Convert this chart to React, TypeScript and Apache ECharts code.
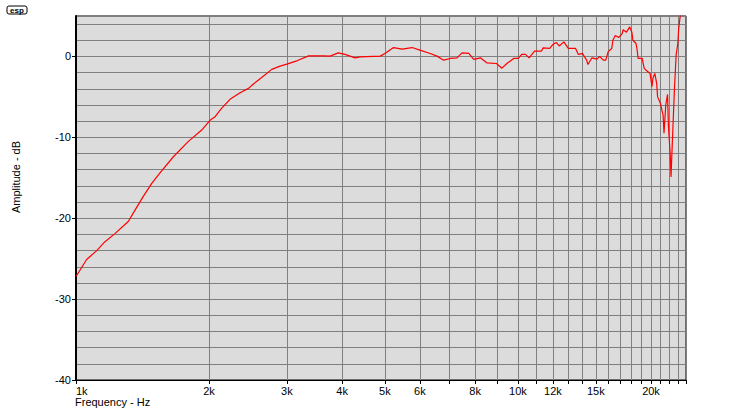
import React, { useEffect, useRef } from "react";
import * as echarts from "echarts";

const freqHz = [
  1000, 1057, 1114, 1163, 1225, 1313, 1360, 1420, 1484, 1549, 1661, 1796, 1925, 2010,
  2060, 2137, 2231, 2351, 2456, 2521, 2631, 2773, 2895, 3000, 3160, 3360, 3630, 3760,
  3920, 4060, 4170, 4280, 4400, 4880, 5000, 5230, 5470, 5760, 6000, 6330, 6560, 6790,
  7030, 7280, 7470, 7740, 7940, 8220, 8500, 8940, 9200, 9440, 9780, 10000, 10200, 10400,
  10600, 10900, 11300, 11400, 11800, 12000, 12200, 12400, 12700, 13000, 13500, 13700,
  14000, 14300, 14400, 14700, 15100, 15300, 15600, 15800, 16000, 16300, 16400, 16600,
  16900, 17200, 17300, 17600, 17900, 18100, 18200, 18500, 18600, 18700, 19100, 19300,
  19500, 19900, 20100, 20200, 20400, 20600, 20700, 21000, 21300, 21400, 21600, 21800,
  21900, 22100, 22200, 22300, 22500, 22600, 22800, 23000, 23100, 23300,
];
const ampDb = [
  -27.2, -25.1, -24.0, -22.9, -21.9, -20.4, -19.0, -17.3, -15.7, -14.4, -12.4, -10.5, -9.1, -7.9,
  -7.5, -6.4, -5.3, -4.5, -3.95, -3.4, -2.6, -1.6, -1.2, -0.95, -0.54, 0.07, 0.07, 0.04,
  0.44, 0.25, 0.04, -0.17, -0.05, 0.04, 0.37, 1.1, 0.9, 1.1, 0.78, 0.37, 0.04, -0.46,
  -0.25, -0.17, 0.44, 0.37, -0.37, -0.17, -0.79, -0.87, -1.45, -0.87, -0.25, -0.25, 0.25, 0.25,
  -0.17, 0.65, 0.65, 1.06, 0.99, 1.48, 1.73, 1.3, 1.8, 0.99, 0.99, 0.25,
  0.37, -0.46, -1.0, -0.17, -0.33, 0.0, -0.46, -0.46, 0.6, 0.99, 2.0, 2.6,
  2.35, 2.8, 3.3, 3.0, 3.65, 3.0, 2.0, 1.6, 0.86, -0.25, -0.25, -1.48,
  -1.7, -2.1, -3.75, -2.7, -2.1, -3.33, -5.0, -5.8, -7.25, -9.5, -6.0, -4.7,
  -8.6, -12.0, -14.9, -12.0, -6.6, -4.0, 0.2, 1.6, 3.4, 5.1,
];
const xGridValues = [
  1000, 2000, 3000, 4000, 5000, 6000, 7000, 8000, 9000, 10000, 11000, 12000, 13000,
  14000, 15000, 16000, 17000, 18000, 19000, 20000, 21000, 22000, 23000, 24000,
];
const xLabelValues = [1000, 2000, 3000, 4000, 5000, 6000, 8000, 10000, 12000, 15000, 20000];
const yLabelValues = [-40, -30, -20, -10, 0];

const FONT = "'Liberation Sans', Arial, sans-serif";

export default function App() {
  const ref = useRef<HTMLDivElement>(null);
  useEffect(() => {
    const chart = echarts.init(ref.current!, null, { renderer: "svg" });
    chart.setOption({
      animation: false,
      backgroundColor: "#ffffff",
      grid: {
        left: 76,
        right: 54,
        top: 16,
        bottom: 40,
        show: true,
        backgroundColor: "#dcdcdc",
        borderColor: "#000000",
        borderWidth: 1,
      },
      xAxis: {
        type: "log",
        logBase: 10,
        min: 1000,
        max: 24000,
        axisLine: { show: true, onZero: false, lineStyle: { color: "#000", width: 1 } },
        axisTick: {
          show: true,
          length: 4,
          customValues: xGridValues,
          lineStyle: { color: "#000", width: 1 },
        },
        axisLabel: {
          customValues: xLabelValues,
          formatter: (v: number) => `${Math.round(v / 1000)}k`,
          color: "#000",
          fontFamily: FONT,
          fontSize: 11,
          margin: 5,
          alignMinLabel: "left",
        },
        splitLine: { show: true, lineStyle: { color: "#808080", width: 1 } },
      },
      yAxis: [
        {
          type: "value",
          min: -40,
          max: 5,
          interval: 2,
          axisLine: { show: true, onZero: false, lineStyle: { color: "#000", width: 2 } },
          axisTick: { show: false },
          axisLabel: { show: false },
          splitLine: { show: true, lineStyle: { color: "#808080", width: 1 } },
        },
        {
          type: "value",
          min: -40,
          max: 5,
          position: "left",
          axisLine: { show: false, onZero: false },
          axisTick: {
            show: true,
            length: 4,
            customValues: yLabelValues,
            lineStyle: { color: "#000", width: 1 },
          },
          axisLabel: {
            customValues: yLabelValues,
            color: "#000",
            fontFamily: FONT,
            fontSize: 11,
            margin: 5,
          },
          splitLine: { show: false },
        },
      ],
      series: [
        {
          type: "line",
          xAxisIndex: 0,
          yAxisIndex: 0,
          data: freqHz.map((f, i) => [f, ampDb[i]]),
          showSymbol: false,
          symbol: "none",
          clip: true,
          lineStyle: { color: "#ff0000", width: 1.2 },
          z: 5,
        },
      ],
      graphic: [
        {
          type: "rect",
          shape: { x: 7, y: 6, width: 20, height: 8, r: 2 },
          style: { fill: "#fff", stroke: "#000", lineWidth: 1 },
        },
        {
          type: "text",
          x: 17,
          y: 10,
          style: {
            text: "esp",
            fontFamily: FONT,
            fontSize: 8,
            fontWeight: "bold",
            fill: "#000",
            align: "center",
            verticalAlign: "middle",
          },
        },
        {
          type: "text",
          x: 75,
          y: 396,
          style: {
            text: "Frequency - Hz",
            fontFamily: FONT,
            fontSize: 11,
            fill: "#000",
            align: "left",
            verticalAlign: "top",
          },
        },
        {
          type: "text",
          x: 16,
          y: 177,
          rotation: Math.PI / 2,
          style: {
            text: "Amplitude - dB",
            fontFamily: FONT,
            fontSize: 11,
            fill: "#000",
            align: "center",
            verticalAlign: "middle",
          },
        },
      ],
    });
    return () => chart.dispose();
  }, []);
  return (
    <div
      ref={ref}
      style={{ position: "fixed", left: 0, top: 0, width: 740, height: 420 }}
    />
  );
}
